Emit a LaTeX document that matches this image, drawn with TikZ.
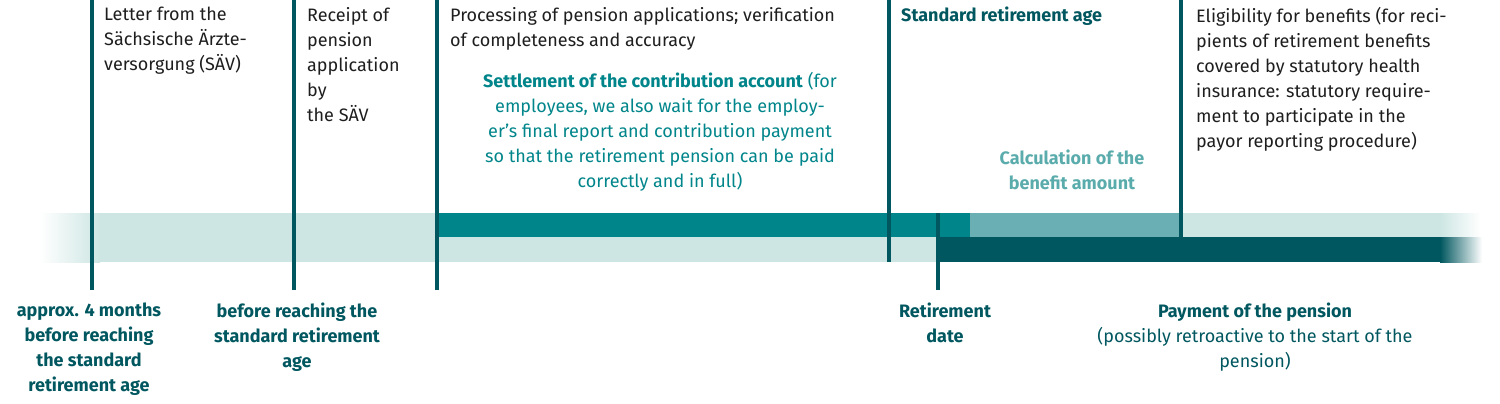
\documentclass[tikz,border=0pt]{standalone}
\usepackage{fontspec}
\setmainfont{Fira Sans}
\definecolor{svdark}{HTML}{00575F}
\definecolor{svteal}{HTML}{00858A}
\definecolor{svmid}{HTML}{6AAFB3}
\definecolor{svlight}{HTML}{CDE6E3}
\definecolor{svcalc}{HTML}{5AABAB}
\definecolor{svtext}{HTML}{1E1E1E}
\begin{document}
\begin{tikzpicture}[x=1pt,y=1pt,yscale=-1,
  txt/.style={anchor=north west,inner sep=0pt,align=left,text=svtext,font=\fontsize{18}{25}\selectfont},
  ctxt/.style={anchor=north,inner sep=0pt,align=center,font=\fontsize{18}{25}\selectfont},
  tick/.style={svdark,line width=3.5pt}]
\useasboundingbox (0,0) rectangle (1500,404);
% bands
\fill[svlight] (100,213) rectangle (1441,262);
\shade[left color=white,right color=svlight] (40,213) rectangle (100,262);
\shade[left color=svlight,right color=white] (1440,213) rectangle (1480,237);
\fill[svteal] (437,213) rectangle (970,237);
\fill[svmid] (970,213) rectangle (1180,237);
\fill[svdark] (937,237) rectangle (1441,262);
\shade[left color=svdark,right color=white] (1440,237) rectangle (1482,262);
% markers
\coordinate (m1t) at (92,0);    \coordinate (m1b) at (92,290);
\coordinate (m2t) at (294,0);   \coordinate (m2b) at (294,290);
\coordinate (m3t) at (437,0);   \coordinate (m3b) at (437,290);
\coordinate (m4t) at (889,0);   \coordinate (m4b) at (889,262);
\coordinate (m5t) at (938,213); \coordinate (m5b) at (938,290);
\coordinate (m6t) at (1181,0);  \coordinate (m6b) at (1181,237);
\foreach \m in {1,...,6} \draw[tick] (m\m t) -- (m\m b);
% upper texts
\node[txt] (letter) at (104,7) {Letter from the\\Sächsische Ärzte-\\versorgung (SÄV)};
\node[txt] (receipt) at (307,7) {Receipt of\\pension\\application\\by\\the SÄV};
\node[txt] (process) at (450,7) {Processing of pension applications; verification\\of completeness and accuracy};
\node[ctxt,text=svteal] (settle) at (660,72) {\textbf{Settlement of the contribution account} (for\\employees, we also wait for the employ-\\er’s final report and contribution payment\\so that the retirement pension can be paid\\correctly and in full)};
\node[txt,text=svdark,font=\fontsize{18}{25}\selectfont\bfseries] (stdage) at (901,7) {Standard retirement age};
\node[ctxt,text=svcalc,font=\fontsize{18}{25}\selectfont\bfseries] (calc) at (1072,150) {Calculation of the\\benefit amount};
\node[txt] (elig) at (1196,7) {Eligibility for benefits (for reci-\\pients of retirement benefits\\covered by statutory health\\insurance: statutory require-\\ment to participate in the\\payor reporting procedure)};
% lower texts
\node[ctxt,text=svdark,font=\fontsize{18}{25}\selectfont\bfseries] (approx) at (89,303) {approx. 4 months\\before reaching\\the standard\\retirement age};
\node[ctxt,text=svdark,font=\fontsize{18}{25}\selectfont\bfseries] (before) at (297,303) {before reaching the\\standard retirement\\age};
\node[ctxt,text=svdark,font=\fontsize{18}{25}\selectfont\bfseries] (retdate) at (945,303) {Retirement\\date};
\node[ctxt,text=svdark] (payment) at (1255,303) {\textbf{Payment of the pension}\\(possibly retroactive to the start of the\\pension)};
\end{tikzpicture}
\end{document}
